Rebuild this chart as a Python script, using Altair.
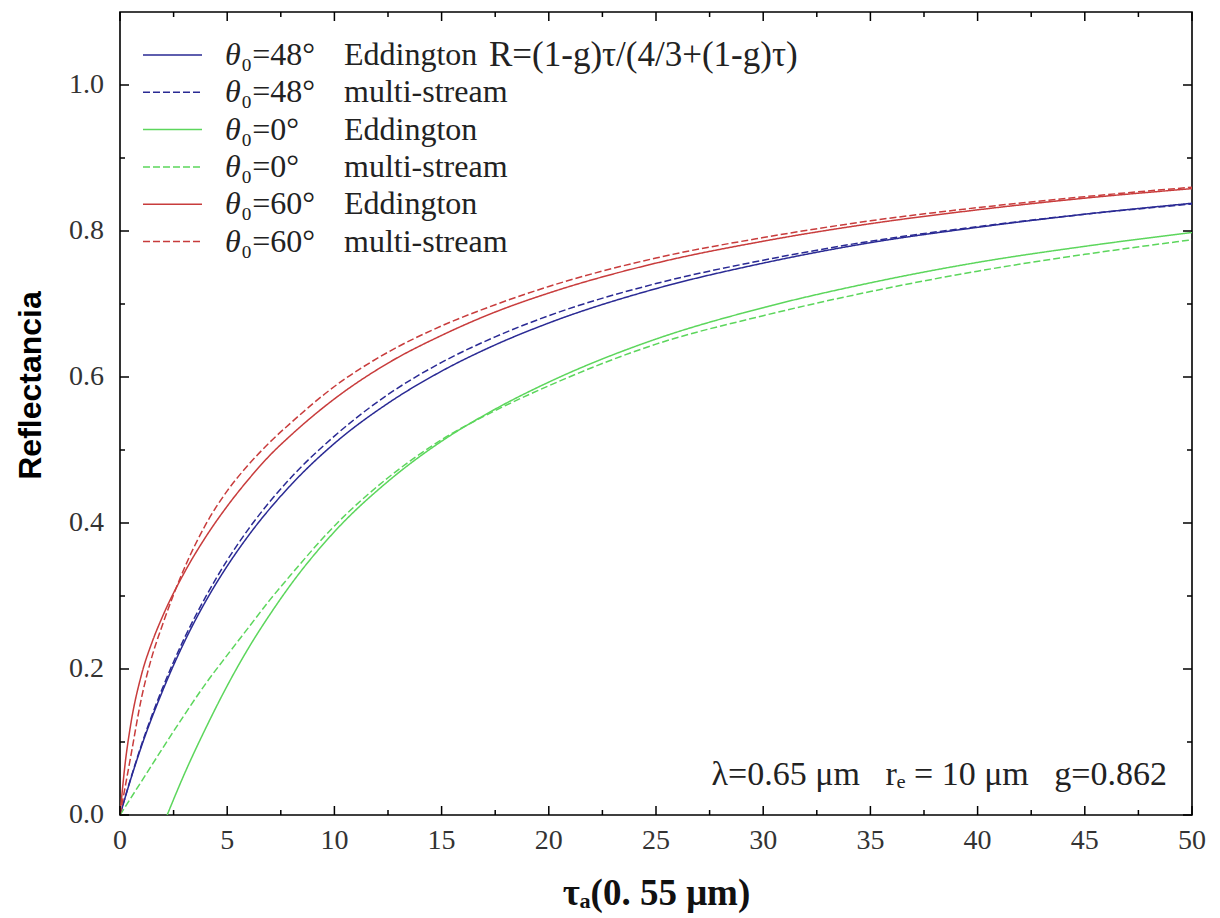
import altair as alt
import pandas as pd

# ---------------- data ----------------
series_names = [
    "θ0=48° Eddington", "θ0=48° multi-stream",
    "θ0=0° Eddington", "θ0=0° multi-stream",
    "θ0=60° Eddington", "θ0=60° multi-stream",
]

tau_blue = [0, 0.5, 1, 2, 3, 4, 5, 6, 8, 10, 12.5, 15, 17.5, 20, 25, 30, 35, 40, 45, 50]
R_blue_edd = [0, 0.049, 0.094, 0.171, 0.237, 0.293, 0.341, 0.383, 0.453, 0.509, 0.564,
              0.608, 0.644, 0.674, 0.721, 0.756, 0.784, 0.805, 0.823, 0.838]
R_blue_ms = [0, 0.050, 0.096, 0.175, 0.242, 0.299, 0.349, 0.392, 0.463, 0.519, 0.576,
             0.620, 0.655, 0.684, 0.728, 0.760, 0.786, 0.806, 0.823, 0.837]

tau_green_edd = [2.2, 3, 4, 5, 6, 7, 8, 10, 12.5, 15, 17.5, 20, 25, 30, 35, 40, 45, 50]
R_green_edd = [0, 0.056, 0.119, 0.177, 0.229, 0.275, 0.317, 0.388, 0.457, 0.512, 0.556,
               0.593, 0.652, 0.695, 0.729, 0.757, 0.779, 0.798]
tau_green_ms = [0, 1, 2, 3, 4, 5, 6, 7, 8, 10, 12.5, 15, 17.5, 20, 25, 30, 35, 40, 45, 50]
R_green_ms = [0, 0.046, 0.092, 0.137, 0.180, 0.219, 0.257, 0.295, 0.330, 0.396, 0.462,
              0.514, 0.554, 0.588, 0.645, 0.684, 0.717, 0.745, 0.768, 0.788]

tau_red = [0, 0.25, 0.5, 1, 1.5, 2, 3, 4, 5, 6, 7, 8, 10, 12.5, 15, 17.5, 20, 25, 30, 35, 40, 45, 50]
R_red_edd = [0, 0.073, 0.124, 0.192, 0.237, 0.273, 0.332, 0.381, 0.423, 0.460, 0.493, 0.521,
             0.570, 0.619, 0.657, 0.689, 0.715, 0.756, 0.786, 0.810, 0.829, 0.845, 0.858]
R_red_ms = [0, 0.040, 0.080, 0.160, 0.218, 0.262, 0.338, 0.398, 0.444, 0.480, 0.511, 0.538,
            0.587, 0.634, 0.670, 0.699, 0.724, 0.763, 0.791, 0.814, 0.832, 0.847, 0.860]

x_major = [0, 5, 10, 15, 20, 25, 30, 35, 40, 45, 50]
x_labels = ["0", "5", "10", "15", "20", "25", "30", "35", "40", "45", "50"]
x_minor = [2.5, 7.5, 12.5, 17.5, 22.5, 27.5, 32.5, 37.5, 42.5, 47.5]
y_major = [0.0, 0.2, 0.4, 0.6, 0.8, 1.0]
y_labels = ["0.0", "0.2", "0.4", "0.6", "0.8", "1.0"]
y_minor = [0.1, 0.3, 0.5, 0.7, 0.9]

legend_theta = ["θ", "θ", "θ", "θ", "θ", "θ"]
legend_angle = ["₀=48°", "₀=48°", "₀=0°", "₀=0°", "₀=60°", "₀=60°"]
legend_method = ["Eddington", "multi-stream", "Eddington", "multi-stream", "Eddington", "multi-stream"]
formula_text = "R=(1-g)τ/(4/3+(1-g)τ)"
note_text = "λ=0.65 μm\u00a0\u00a0\u00a0r\u2091 = 10 μm\u00a0\u00a0\u00a0g=0.862"
x_title = "τₐ(0. 55 μm)"
y_title = "Reflectancia"

# ---------------- styles ----------------
BLUE, GREEN, RED = "#2a2a94", "#5cd65c", "#c83c3c"
colors = [BLUE, BLUE, GREEN, GREEN, RED, RED]
SOLID, DASH = [1, 0], [7, 3]
dashes = [SOLID, DASH, SOLID, DASH, SOLID, DASH]
SERIF = "Liberation Serif"

W, H = 1072, 803
XD = [0, 50]
YD = [0, 1.1]

rows = []
for name, taus, Rs in [
    (series_names[0], tau_blue, R_blue_edd),
    (series_names[1], tau_blue, R_blue_ms),
    (series_names[2], tau_green_edd, R_green_edd),
    (series_names[3], tau_green_ms, R_green_ms),
    (series_names[4], tau_red, R_red_edd),
    (series_names[5], tau_red, R_red_ms),
]:
    for t, r in zip(taus, Rs):
        rows.append({"tau": t, "R": r, "series": name})
df = pd.DataFrame(rows)

xs = alt.Scale(domain=XD, nice=False, zero=False)
ys = alt.Scale(domain=YD, nice=False, zero=False)

x_axis = alt.Axis(
    values=x_major, labels=False, ticks=False, domain=False, grid=False,
    title=x_title, titleFont=SERIF, titleFontSize=37, titleFontWeight="bold",
    titleColor="#111", titleX=W / 2, titleY=78, titleBaseline="middle", titleAlign="center")
y_axis = alt.Axis(
    values=y_major, labels=False, ticks=False, domain=False, grid=False,
    title=y_title, titleFont="Liberation Sans", titleFontSize=32,
    titleFontWeight="bold", titleColor="#000", titleX=-90, titleY=373,
    titleAngle=270, titleAlign="center", titleBaseline="middle")

lines = alt.Chart(df).mark_line(strokeWidth=1.5, interpolate="monotone", clip=True).encode(
    x=alt.X("tau:Q", scale=xs, axis=x_axis, title=x_title),
    y=alt.Y("R:Q", scale=ys, axis=y_axis, title=y_title),
    color=alt.Color("series:N", scale=alt.Scale(domain=series_names, range=colors), legend=None),
    strokeDash=alt.StrokeDash("series:N", scale=alt.Scale(domain=series_names, range=dashes), legend=None),
    detail="series:N",
)

layers = [lines]

def xticks(vals, length):
    d = pd.DataFrame({"v": vals})
    b = alt.Chart(d).mark_rule(color="#000", strokeWidth=1.5).encode(
        x=alt.X("v:Q", scale=xs, axis=x_axis, title=x_title), y=alt.value(H), y2=alt.value(H - length))
    t = alt.Chart(d).mark_rule(color="#000", strokeWidth=1.5).encode(
        x=alt.X("v:Q", scale=xs, axis=x_axis, title=x_title), y=alt.value(0), y2=alt.value(length))
    return [b, t]

def yticks(vals, length):
    d = pd.DataFrame({"v": vals})
    l = alt.Chart(d).mark_rule(color="#000", strokeWidth=1.5).encode(
        y=alt.Y("v:Q", scale=ys, axis=y_axis, title=y_title), x=alt.value(0), x2=alt.value(length))
    r = alt.Chart(d).mark_rule(color="#000", strokeWidth=1.5).encode(
        y=alt.Y("v:Q", scale=ys, axis=y_axis, title=y_title), x=alt.value(W), x2=alt.value(W - length))
    return [l, r]

layers += xticks(x_major, 9) + xticks(x_minor, 5) + yticks(y_major, 9) + yticks(y_minor, 5)

# tick labels (serif, like the reference)
xl = pd.DataFrame({"v": x_major, "lab": x_labels})
layers.append(alt.Chart(xl).mark_text(font=SERIF, fontSize=28, color="#333",
                                      align="center", baseline="middle").encode(
    x=alt.X("v:Q", scale=xs, axis=x_axis, title=x_title), y=alt.value(H + 26), text="lab:N"))
yl = pd.DataFrame({"v": y_major, "lab": y_labels})
layers.append(alt.Chart(yl).mark_text(font=SERIF, fontSize=28, color="#333",
                                      align="right", baseline="middle").encode(
    y=alt.Y("v:Q", scale=ys, axis=y_axis, title=y_title), x=alt.value(-16), text="lab:N"))

one = pd.DataFrame({"a": [0]})
for i in range(6):
    ypx = 43 + 37.3 * i
    layers.append(alt.Chart(one).mark_rule(strokeWidth=1.5).encode(
        x=alt.value(23), x2=alt.value(82), y=alt.value(ypx),
        color=alt.value(colors[i]), strokeDash=alt.value(dashes[i])))
    layers.append(alt.Chart(one).mark_text(align="left", baseline="middle", font=SERIF,
                                          fontSize=32, fontStyle="italic", color="#222").encode(
        x=alt.value(105), y=alt.value(ypx), text=alt.value(legend_theta[i])))
    layers.append(alt.Chart(one).mark_text(align="left", baseline="middle", font=SERIF,
                                          fontSize=32, color="#222").encode(
        x=alt.value(121), y=alt.value(ypx), text=alt.value(legend_angle[i])))
    layers.append(alt.Chart(one).mark_text(align="left", baseline="middle", font=SERIF,
                                          fontSize=32, color="#222").encode(
        x=alt.value(224), y=alt.value(ypx), text=alt.value(legend_method[i])))

layers.append(alt.Chart(one).mark_text(align="left", baseline="middle", font=SERIF,
                                      fontSize=35, color="#222").encode(
    x=alt.value(369), y=alt.value(43), text=alt.value(formula_text)))
layers.append(alt.Chart(one).mark_text(align="right", baseline="alphabetic", font=SERIF,
                                      fontSize=34, color="#222").encode(
    x=alt.value(1047), y=alt.value(773), text=alt.value(note_text)))

chart = alt.layer(*layers).properties(
    width=W, height=H,
    padding={"left": 112, "top": 4, "right": 20, "bottom": 102},
    autosize=alt.AutoSizeParams(type="none"),
    background="white",
).configure_view(stroke="#000", strokeWidth=1.6)

chart.save("out.html", embed_options={"renderer": "svg", "actions": False})
